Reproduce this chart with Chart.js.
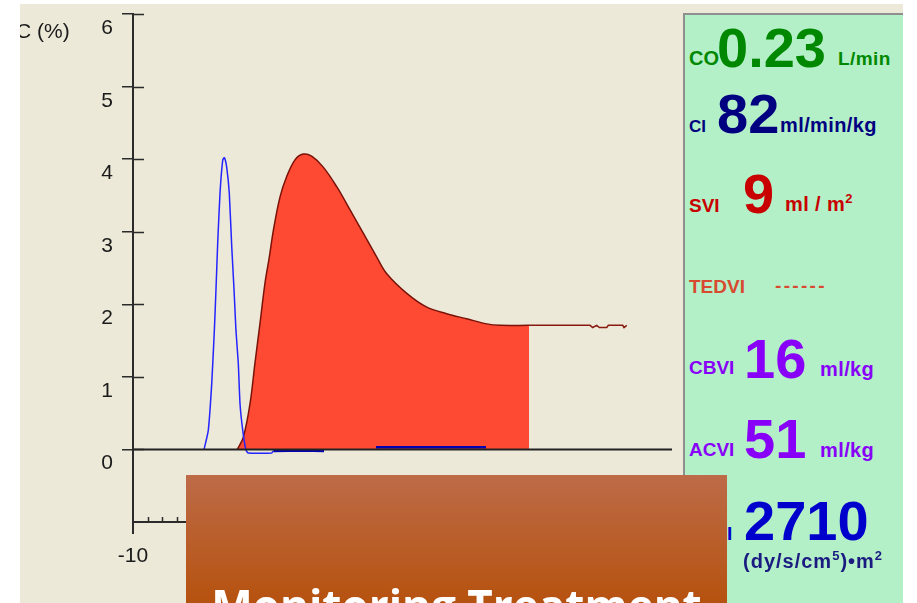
<!DOCTYPE html>
<html>
<head>
<meta charset="utf-8">
<script src="https://cdn.jsdelivr.net/npm/chart.js@4.4.1/dist/chart.umd.min.js"></script>
<style>
    html, body { margin: 0; padding: 0; }
    body { width: 917px; height: 603px; overflow: hidden; background: #fff; position: relative;
           font-family: "Liberation Sans", Arial, sans-serif; }
    #plot { position: absolute; left: 20px; top: 4px; width: 883px; height: 599px; background: #ece9d8; overflow: hidden; }
    #plot canvas { position: absolute; left: 0; top: 0; }
    #ytitle { position: absolute; left: -4px; top: 16px; font-size: 21px; line-height: 21px; color: #1a1a1a; white-space: pre; }
    #panel { position: absolute; left: 683px; top: 13px; width: 220px; height: 600px; background: #b3f0c8;
             border-left: 2px solid #8f8f8f; border-top: 2px solid #8f8f8f; box-sizing: border-box; }
    .t { position: absolute; line-height: 1; font-weight: bold; white-space: pre; }
    .big { font-size: 56px; }
    .lab { font-size: 19px; }
    .unit { font-size: 20px; letter-spacing: 0.4px; }
    sup { font-size: 13px; vertical-align: 8px; line-height: 0; }
    #banner { position: absolute; left: 186px; top: 475px; width: 541px; height: 128px;
              background: linear-gradient(#bd6b48, #b6520f); overflow: hidden; }
    #banner span { position: absolute; left: 0; width: 100%; top: 108px; text-align: center; color: #fff;
                   font-family: "Open Sans", sans-serif; font-weight: bold; font-size: 44px; line-height: 44px; white-space: pre; }
</style>
</head>
<body>
<div id="plot">
    <canvas id="chart" width="663" height="599"></canvas>
    <div id="ytitle">C (%)</div>
</div>

<div id="panel"></div>

<div class="t lab"  style="left:689px; top:48px; color:#008800; font-size:20px;">CO</div>
<div class="t big"  style="left:717px; top:20px; color:#008800;">0.23</div>
<div class="t unit" style="left:838px; top:49px; color:#008800; font-size:19px;">L/min</div>

<div class="t lab"  style="left:689px; top:118px; color:#000080; font-size:17px;">CI</div>
<div class="t big"  style="left:717px; top:86px; color:#000080;">82</div>
<div class="t unit" style="left:780px; top:115px; color:#000080;">ml/min/kg</div>

<div class="t lab"  style="left:689px; top:196px; color:#c80000;">SVI</div>
<div class="t big"  style="left:743px; top:166px; color:#c80000;">9</div>
<div class="t unit" style="left:785px; top:194px; color:#c80000;">ml / m<sup>2</sup></div>

<div class="t lab"  style="left:689px; top:277px; color:#d84a30;">TEDVI</div>
<div class="t lab"  style="left:775px; top:276px; color:#d84a30; letter-spacing:2.3px;">------</div>

<div class="t lab"  style="left:689px; top:358px; color:#8800f8;">CBVI</div>
<div class="t big"  style="left:744px; top:331px; color:#8800f8;">16</div>
<div class="t unit" style="left:820px; top:359px; color:#8800f8;">ml/kg</div>

<div class="t lab"  style="left:689px; top:440px; color:#8800f8;">ACVI</div>
<div class="t big"  style="left:744px; top:411px; color:#8800f8;">51</div>
<div class="t unit" style="left:820px; top:440px; color:#8800f8;">ml/kg</div>

<div class="t lab"  style="left:688px; top:524px; color:#0000cc;">SVRI</div>
<div class="t big"  style="left:744px; top:493px; color:#0000cc;">2710</div>
<div class="t unit" style="left:743px; top:551px; color:#1a1a80; letter-spacing:1px;">(dy/s/cm<sup>5</sup>)•m<sup>2</sup></div>

<div id="banner"><span>Monitoring Treatment</span></div>

<script>
// time axis (s) and concentration (%)
const blueX = [-5.10, -4.81, -4.57, -4.39, -4.28, -4.16, -4.00, -3.81, -3.70, -3.54, -3.36, -3.19, -3.03,
               -2.90, -2.74, -2.62, -2.43, -2.21, -2.05, -0.43, -0.32, 3.17, 5.00, 6.76, 14.34];
const blueY = [0, 0.26, 0.91, 1.64, 2.19, 2.84, 3.53, 3.99, 4.02, 3.89, 3.53, 2.79, 2.19,
               1.64, 1.19, 0.63, 0.26, -0.01, -0.05, -0.05, -0.02, -0.02, null, 0.03, 0.03];

const redX = [-2.81, -2.39, -1.93, -1.59, -1.24, -0.90, -0.60, -0.32, 0.14, 0.60, 1.17, 1.74, 2.32,
              3.12, 4.05, 4.97, 5.88, 6.81, 7.50, 8.88, 10.26, 11.63, 13.01, 14.39, 15.31, 17.31];
const redY = [0, 0.17, 0.63, 1.19, 1.74, 2.29, 2.65, 3.02, 3.48, 3.76, 3.99, 4.07, 4.04,
              3.89, 3.62, 3.30, 2.98, 2.65, 2.42, 2.15, 1.96, 1.87, 1.80, 1.73, 1.71, 1.71];

const tailX = [17.31, 21.52, 21.70, 21.98, 22.16, 22.67, 22.78, 23.77, 23.86, 24.05];
const tailY = [1.71, 1.71, 1.68, 1.71, 1.68, 1.68, 1.71, 1.71, 1.68, 1.71];

const xMin = -10, xMax = 27.17;
const yMin = -1, yMax = 6;

const pts = (xs, ys) => xs.map((x, i) => ({ x: x, y: ys[i] }));

const axisColor = '#2b2b2b';

// inner halves of the tick marks and the zero baseline
const axisMarks = {
    id: 'axisMarks',
    afterDatasetsDraw(chart) {
        const { ctx, chartArea, scales } = chart;
        ctx.save();
        ctx.strokeStyle = axisColor;
        ctx.lineWidth = 1.5;
        scales.y.ticks.forEach(t => {
            if (t.value < 0) return;
            const py = Math.round(scales.y.getPixelForValue(t.value)) + 0.5;
            ctx.beginPath();
            ctx.moveTo(chartArea.left, py);
            ctx.lineTo(chartArea.left + 11, py);
            ctx.stroke();
        });
        scales.x.ticks.forEach(t => {
            if (t.value <= xMin || t.value % 1 !== 0) return;
            const px = Math.round(scales.x.getPixelForValue(t.value)) + 0.5;
            ctx.beginPath();
            ctx.moveTo(px, chartArea.bottom);
            ctx.lineTo(px, chartArea.bottom - 5);
            ctx.stroke();
        });
        const y0 = scales.y.getPixelForValue(0);
        ctx.lineWidth = 2;
        ctx.strokeStyle = '#222';
        ctx.beginPath();
        ctx.moveTo(chartArea.left, y0);
        ctx.lineTo(chartArea.right, y0);
        ctx.stroke();
        ctx.restore();
    }
};

const nearZero = c => Math.abs(c.p0.parsed.y) < 0.04 && Math.abs(c.p1.parsed.y) < 0.04 && c.p0.parsed.x > -1;

new Chart(document.getElementById('chart').getContext('2d'), {
    type: 'line',
    data: {
        datasets: [{
            label: 'blue',
            data: pts(blueX, blueY),
            borderColor: '#2424ff',
            borderWidth: 1.5,
            pointRadius: 0,
            tension: 0.15,
            spanGaps: false,
            fill: false,
            order: 0,
            segment: {
                borderColor: c => nearZero(c) ? '#0000b4' : undefined,
                borderWidth: c => nearZero(c) ? 2.5 : undefined,
            }
        }, {
            label: 'red',
            data: pts(redX, redY),
            borderColor: '#7a1208',
            backgroundColor: '#ff4a33',
            borderWidth: 1.5,
            pointRadius: 0,
            tension: 0.35,
            fill: 'origin',
            order: 2,
        }, {
            label: 'tail',
            data: pts(tailX, tailY),
            borderColor: '#8a1a10',
            borderWidth: 1.5,
            pointRadius: 0,
            fill: false,
            order: 1,
        }]
    },
    options: {
        responsive: false,
        devicePixelRatio: 1,
        animation: false,
        layout: { padding: { top: 10, right: 11, left: 0, bottom: 0 } },
        plugins: { legend: { display: false }, tooltip: { enabled: false } },
        scales: {
            x: {
                type: 'linear',
                min: xMin,
                max: xMax,
                afterFit: s => { s.height = 81; s.paddingLeft = 0; s.paddingRight = 0; },
                border: { display: true, color: axisColor, width: 2 },
                grid: {
                    drawOnChartArea: false,
                    tickLength: 12,
                    lineWidth: 2,
                    color: c => (c.tick && c.tick.value === xMin) ? axisColor : 'transparent',
                },
                ticks: {
                    stepSize: 1,
                    autoSkip: false,
                    maxRotation: 0,
                    padding: 10,
                    color: '#1a1a1a',
                    font: { family: 'Liberation Sans', size: 21 },
                    callback: v => (v % 10 === 0 ? String(v) : ''),
                }
            },
            y: {
                min: yMin,
                max: yMax,
                afterFit: s => { s.width = 113; s.paddingTop = 0; s.paddingBottom = 0; },
                border: { display: true, color: axisColor, width: 2 },
                grid: {
                    drawOnChartArea: false,
                    tickLength: 11,
                    lineWidth: 1.5,
                    color: c => (c.tick && c.tick.value < 0) ? 'transparent' : axisColor,
                },
                ticks: {
                    stepSize: 1,
                    padding: 9,
                    color: '#1a1a1a',
                    font: { family: 'Liberation Sans', size: 21, lineHeight: 1.35 },
                    callback: v => (v < 0 ? '' : ['', String(v)]),
                }
            }
        }
    },
    plugins: [axisMarks]
});
</script>
</body>
</html>
